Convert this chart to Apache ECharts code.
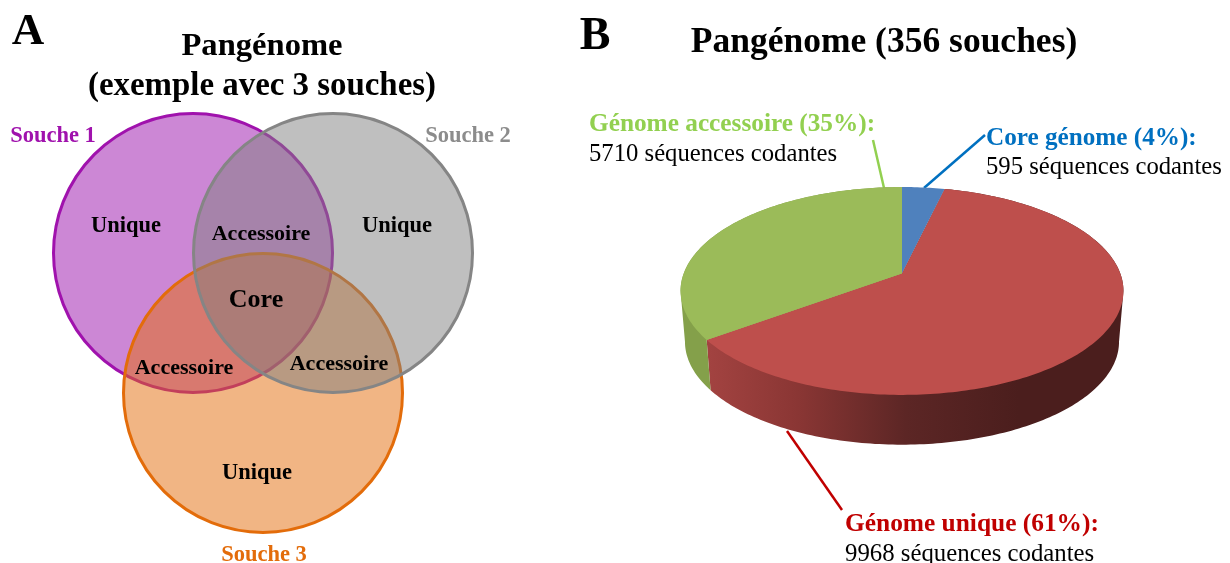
<!DOCTYPE html>
<html>
<head>
<meta charset="utf-8">
<style>
html, body { margin: 0; padding: 0; background: #fff; }
#main { width: 1230px; height: 563px; }
</style>
<script src="https://cdn.jsdelivr.net/npm/echarts@6/dist/echarts.min.js"></script>
</head>
<body>
<div id="main"></div>
<script>
// valeurs du camembert (sequences codantes), dans le sens horaire depuis midi
var sliceNames = ['Core génome', 'Génome unique', 'Génome accessoire'];
var sliceValues = [595, 9968, 5710];
var sliceShares = [4, 61, 35];
var strainNames = ['Souche 1', 'Souche 3', 'Souche 2'];
var regionNames = ['Unique', 'Accessoire', 'Core'];

var SERIF = '"Liberation Serif", "Times New Roman", serif';

// couleurs
var strainFill = ['rgba(154,15,171,0.5)', 'rgba(227,108,10,0.5)', 'rgba(127,127,127,0.5)'];
var strainLine = ['#A012AD', '#E36C0A', '#858585'];
var faceColors = ['#4F81BD', '#BE4F4C', '#9BBB59'];
var RED_WALL = new echarts.graphic.LinearGradient(706, 0, 1123, 0, [
    { offset: 0, color: '#A34341' },
    { offset: 0.22, color: '#8A3634' },
    { offset: 0.48, color: '#5C2625' },
    { offset: 0.75, color: '#4B1E1D' },
    { offset: 1, color: '#4B1E1D' }
], true);
var wallColors = ['#3E6694', RED_WALL, '#84A04A'];

// camembert en perspective : centre apparent, rayon, fuite
var PIE = { cx: 902, cy: 273.5, rx: 218.3, ry: 101, persp: 0.168, depth: 51 };

// fractions du tour ou le bord du disque est le plus large (a droite, a gauche)
var SIL_RIGHT = Math.acos(-PIE.persp) / (Math.PI * 2);
var SIL_LEFT = 1 - SIL_RIGHT;

// point du bord pour une fraction du tour ; shrink/drop pour le disque du bas
function rimPoint(frac, shrink, drop) {
    var a = frac * Math.PI * 2;
    var u = Math.sin(a), v = -Math.cos(a);
    var s = 1 / (1 - PIE.persp * v);
    return [PIE.cx + PIE.rx * shrink * u * s, PIE.cy + drop + PIE.ry * (shrink === 1 ? 1 : 0.99) * v * s];
}

function arcPoints(start, end, shrink, drop) {
    var n = Math.max(2, Math.ceil((end - start) * 360));
    var pts = [];
    for (var i = 0; i <= n; i++) {
        pts.push(rimPoint(start + (end - start) * i / n, shrink, drop));
    }
    return pts;
}

// fractions cumulees, calculees depuis sliceValues
var total = sliceValues.reduce(function (a, b) { return a + b; }, 0);
var sliceRanges = [];
sliceValues.reduce(function (acc, v) {
    sliceRanges.push([acc / total, (acc + v) / total]);
    return acc + v;
}, 0);

function toScreen(api, pts) {
    return pts.map(function (p) { return api.coord(p); });
}

// paroi : seule la partie avant se voit, le reste passe sous la face du dessus
function renderWall(params, api) {
    var start = api.value(0), end = api.value(1);
    var from = Math.max(start, SIL_RIGHT), to = Math.min(end, SIL_LEFT);
    if (from >= to) {
        return null;
    }
    var pts = [[PIE.cx, PIE.cy]]
        .concat(arcPoints(start, from, 1, 0))
        .concat(arcPoints(from, to, 0.98, PIE.depth))
        .concat(arcPoints(to, end, 1, 0));
    return {
        type: 'polygon',
        shape: { points: toScreen(api, pts) },
        style: { fill: wallColors[params.dataIndex] }
    };
}

function renderFace(params, api) {
    var pts = [[PIE.cx, PIE.cy]].concat(arcPoints(api.value(0), api.value(1), 1, 0));
    return {
        type: 'polygon',
        shape: { points: toScreen(api, pts) },
        style: { fill: faceColors[params.dataIndex] }
    };
}

function circleSeries(i, center) {
    return {
        type: 'scatter',
        name: strainNames[i],
        silent: true,
        symbol: 'circle',
        symbolSize: 279,
        data: [center],
        itemStyle: { color: strainFill[i], borderColor: strainLine[i], borderWidth: 3, opacity: 1 },
        z: 2 + i
    };
}

function leader(points, color) {
    return {
        type: 'line',
        silent: true,
        symbol: 'none',
        data: points,
        lineStyle: { color: color, width: 2.5 },
        z: 1
    };
}

function txt(text, x, y, size, color, bold, align) {
    return {
        type: 'text',
        x: x,
        y: y,
        z: 100,
        silent: true,
        style: {
            text: text,
            font: (bold ? 'bold ' : '') + size + 'px ' + SERIF,
            fill: color,
            textAlign: align || 'center',
            textVerticalAlign: 'middle'
        }
    };
}

var texts = [
    txt('A', 28, 32, 45, '#000', true),
    txt('Pangénome', 262, 47, 32.6, '#000', true),
    txt('(exemple avec 3 souches)', 262, 86, 32.9, '#000', true),
    txt('B', 595, 37, 46, '#000', true),
    txt('Pangénome (356 souches)', 884, 43, 35.5, '#000', true),

    txt(strainNames[0], 53, 136, 22.5, strainLine[0], true),
    txt(strainNames[2], 468, 136, 22.5, '#8C8C8C', true),
    txt(strainNames[1], 264, 555, 22.5, strainLine[1], true),

    txt(regionNames[0], 126, 226, 22.5, '#000', true),
    txt(regionNames[0], 397, 226, 22.5, '#000', true),
    txt(regionNames[0], 257, 473, 22.5, '#000', true),
    txt(regionNames[1], 261, 234, 22, '#000', true),
    txt(regionNames[1], 184, 368, 22, '#000', true),
    txt(regionNames[1], 339, 364, 22, '#000', true),
    txt(regionNames[2], 256, 300, 26, '#000', true),

    txt(sliceNames[2] + ' (' + sliceShares[2] + '%):', 589, 124, 25.3, '#92D050', true, 'left'),
    txt(sliceValues[2] + ' séquences codantes', 589, 155, 24.7, '#000', false, 'left'),
    txt(sliceNames[0] + ' (' + sliceShares[0] + '%):', 986, 138, 25.2, '#0070C0', true, 'left'),
    txt(sliceValues[0] + ' séquences codantes', 986, 168, 24.7, '#000', false, 'left'),
    txt(sliceNames[1] + ' (' + sliceShares[1] + '%):', 845, 524, 25.4, '#C00000', true, 'left'),
    txt(sliceValues[1] + ' séquences codantes', 845, 554, 24.8, '#000', false, 'left')
];

var chart = echarts.init(document.getElementById('main'));
chart.setOption({
    animation: false,
    backgroundColor: '#fff',
    grid: { left: 0, right: 0, top: 0, bottom: 0 },
    xAxis: { type: 'value', min: 0, max: 1230, show: false },
    yAxis: { type: 'value', min: 0, max: 563, inverse: true, show: false },
    series: [
        circleSeries(0, [193, 253]),
        circleSeries(1, [263, 393]),
        circleSeries(2, [333, 253]),
        leader([[873, 140], [884, 188]], '#92D050'),
        leader([[985, 135], [924, 188]], '#0070C0'),
        leader([[787, 431], [842, 510]], '#C00000'),
        { type: 'custom', silent: true, clip: false, z: 5, data: sliceRanges, renderItem: renderWall },
        { type: 'custom', silent: true, clip: false, z: 6, data: sliceRanges, renderItem: renderFace }
    ],
    graphic: { elements: texts }
});
</script>
</body>
</html>
